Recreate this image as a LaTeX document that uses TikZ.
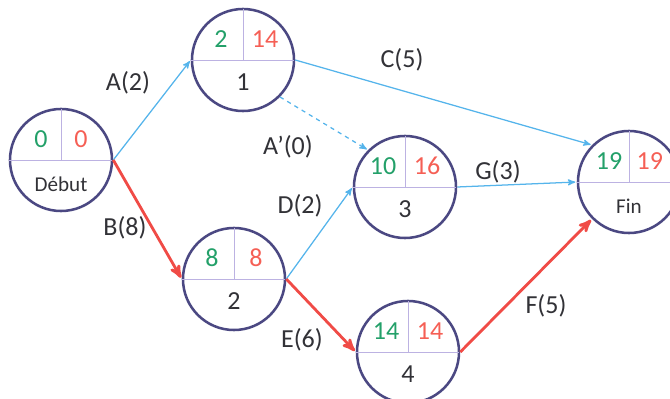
\documentclass[tikz,border=0pt]{standalone}
\usepackage{fontspec}
\setmainfont{Carlito}
\usepackage{xcolor}
\usepackage{tikz}
\usetikzlibrary{arrows, positioning}

\definecolor{circ}{RGB}{75,72,130}
\definecolor{sepline}{RGB}{188,178,226}
\definecolor{early}{RGB}{35,160,105}
\definecolor{late}{RGB}{245,95,85}
\definecolor{bluearc}{RGB}{85,180,235}
\definecolor{redarc}{RGB}{240,75,70}
\definecolor{txt}{RGB}{50,50,55}

\tikzset{
	event/.style={circle, draw=circ, line width=1.8pt, minimum size=2.55cm, inner sep=0pt},
	sep/.style={draw=sepline, line width=0.7pt},
	num/.style={font=\fontsize{18.5}{20}\selectfont},
	etiq/.style={text=txt, font=\fontsize{18.5}{20}\selectfont},
	petit/.style={text=txt, font=\fontsize{15}{17}\selectfont},
	fleche/.style={->, draw=bluearc, line width=0.9pt},
	critique/.style={->, draw=redarc, line width=2pt}
}

\begin{document}
\begin{tikzpicture}[x=0.025cm, y=-0.025cm,
				>=stealth',
				shorten >=1pt]
				\useasboundingbox (0,0) rectangle (670,399);
				% etapes
				\node at (61,160) (deb) [event] {};
				\node at (243,60) (n1) [event] {};
				\node at (234,279) (n2) [event] {};
				\node at (405,187) (n3) [event] {};
				\node at (408,352) (n4) [event] {};
				\node at (629,182) (fin) [event] {};
				\foreach \n in {deb,n1,n2,n3,n4,fin}
				{
					\draw[sep] (\n.west) -- (\n.east);
					\draw[sep] (\n.center) -- (\n.north);
				}
				% dates au plus tot / au plus tard
				\node at ([xshift=-0.5cm, yshift=0.52cm]deb.center) (deb-e) [num, text=early] {0};
				\node at ([xshift=0.5cm, yshift=0.52cm]deb.center) (deb-l) [num, text=late] {0};
				\node at ([yshift=-0.6cm]deb.center) (deb-t) [petit] {Début};
				\node at ([xshift=-0.55cm, yshift=0.52cm]n1.center) (n1-e) [num, text=early] {2};
				\node at ([xshift=0.55cm, yshift=0.52cm]n1.center) (n1-l) [num, text=late] {14};
				\node at ([yshift=-0.55cm]n1.center) (n1-t) [etiq] {1};
				\node at ([xshift=-0.55cm, yshift=0.52cm]n2.center) (n2-e) [num, text=early] {8};
				\node at ([xshift=0.55cm, yshift=0.52cm]n2.center) (n2-l) [num, text=late] {8};
				\node at ([yshift=-0.55cm]n2.center) (n2-t) [etiq] {2};
				\node at ([xshift=-0.55cm, yshift=0.52cm]n3.center) (n3-e) [num, text=early] {10};
				\node at ([xshift=0.55cm, yshift=0.52cm]n3.center) (n3-l) [num, text=late] {16};
				\node at ([yshift=-0.55cm]n3.center) (n3-t) [etiq] {3};
				\node at ([xshift=-0.55cm, yshift=0.52cm]n4.center) (n4-e) [num, text=early] {14};
				\node at ([xshift=0.55cm, yshift=0.52cm]n4.center) (n4-l) [num, text=late] {14};
				\node at ([yshift=-0.55cm]n4.center) (n4-t) [etiq] {4};
				\node at ([xshift=-0.5cm, yshift=0.52cm]fin.center) (fin-e) [num, text=early] {19};
				\node at ([xshift=0.52cm, yshift=0.52cm]fin.center) (fin-l) [num, text=late] {19};
				\node at ([yshift=-0.6cm]fin.center) (fin-t) [petit] {Fin};
				% taches
				\draw[fleche] (deb.east) -- (n1.west);
				\draw[critique] (deb.east) -- (n2.west);
				\draw[fleche] (n1.east) -- (fin.135);
				\draw[fleche, dashed] (n1.-45) -- (n3.135);
				\draw[fleche] (n2.east) -- (n3.west);
				\draw[fleche] (n3.east) -- (fin.west);
				\draw[critique] (n2.east) -- (n4.west);
				\draw[critique] (n4.east) -- (fin.225);
				% durees
				\node at (128,83) (la) [etiq] {A(2)};
				\node at (402,60) (lc) [etiq] {C(5)};
				\node at (288,147) (lap) [etiq] {A’(0)};
				\node at (125,228) (lb) [etiq] {B(8)};
				\node at (300,206) (ld) [etiq] {D(2)};
				\node at (498,172) (lg) [etiq] {G(3)};
				\node at (302,340) (le) [etiq] {E(6)};
				\node at (546,306) (lf) [etiq] {F(5)};
			\end{tikzpicture}
\end{document}
